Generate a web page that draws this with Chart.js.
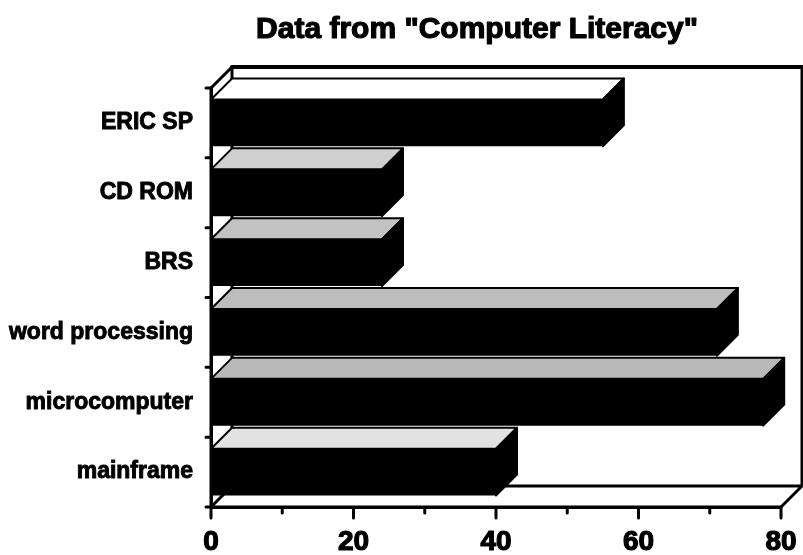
<!DOCTYPE html>
<html><head><meta charset="utf-8">
<script src="https://cdn.jsdelivr.net/npm/chart.js@4"></script>
<style>html,body{margin:0;padding:0;background:#fff;}#wrap{width:803px;height:555px;}</style>
</head><body><div id="wrap"><canvas id="c" width="803" height="555"></canvas></div>
<script>
const chartTitle = 'Data from "Computer Literacy"';
const categories = ['ERIC SP', 'CD ROM', 'BRS', 'word processing', 'microcomputer', 'mainframe'];
const values = [55, 24, 24, 71, 77.5, 40];
const xTickValues = [0, 20, 40, 60, 80];
const xMinorTickValues = [10, 30, 50, 70];

const topShades = ['#ffffff', '#cfcfcf', '#c2c2c2', '#bdbdbd', '#b9b9b9', '#e2e2e2'];
const DEPTH = 21;
const FONT = '"Liberation Sans", Arial, Helvetica, sans-serif';

const frame3d = {
  id: 'frame3d',
  beforeDatasetsDraw(chart) {
    const {ctx, chartArea: a, scales: {x}} = chart;
    const L = x.getPixelForValue(xTickValues[0]);
    const R = x.getPixelForValue(xTickValues[xTickValues.length - 1]);
    const D = DEPTH;
    ctx.save();
    ctx.strokeStyle = '#000';
    ctx.lineWidth = 3;
    ctx.lineJoin = 'round';
    ctx.lineCap = 'round';
    ctx.beginPath();
    ctx.moveTo(L, a.top); ctx.lineTo(L + D, a.top - D);
    ctx.lineTo(R + D, a.top - D); ctx.lineTo(R + D, a.bottom - D); ctx.lineTo(R, a.bottom);
    ctx.moveTo(R + D, a.bottom - D); ctx.lineTo(L + D, a.bottom - D); ctx.lineTo(L, a.bottom);
    ctx.moveTo(L + D, a.top - D); ctx.lineTo(L + D, a.bottom - D);
    ctx.stroke();
    ctx.lineWidth = 4;
    ctx.beginPath();
    ctx.moveTo(L + D, a.top - D); ctx.lineTo(R + D, a.top - D);
    ctx.stroke();
    ctx.restore();
  },
  afterDatasetsDraw(chart) {
    const {ctx} = chart;
    const D = DEPTH;
    const meta = chart.getDatasetMeta(0);
    ctx.save();
    ctx.strokeStyle = '#000';
    ctx.lineJoin = 'round';
    meta.data.forEach((bar, i) => {
      const p = bar.getProps(['x', 'y', 'base', 'height'], true);
      const x0 = p.base, x1 = p.x, y0 = p.y - p.height / 2, y1 = p.y + p.height / 2;
      ctx.beginPath();
      ctx.moveTo(x0, y0); ctx.lineTo(x0 + D, y0 - D); ctx.lineTo(x1 + D, y0 - D); ctx.lineTo(x1, y0);
      ctx.closePath();
      ctx.fillStyle = topShades[i];
      ctx.fill();
      ctx.lineWidth = 2;
      ctx.stroke();
      ctx.beginPath();
      ctx.moveTo(x1, y0); ctx.lineTo(x1 + D, y0 - D); ctx.lineTo(x1 + D, y1 - D); ctx.lineTo(x1, y1);
      ctx.closePath();
      ctx.fillStyle = '#000';
      ctx.fill();
      ctx.stroke();
    });
    ctx.restore();
  },
  afterDraw(chart) {
    const {ctx, chartArea: a, scales: {x, y}} = chart;
    const L = x.getPixelForValue(xTickValues[0]);
    const R = x.getPixelForValue(xTickValues[xTickValues.length - 1]);
    ctx.save();
    ctx.strokeStyle = '#000';
    ctx.lineCap = 'round';
    ctx.lineWidth = 3;
    ctx.beginPath();
    ctx.moveTo(L, a.top); ctx.lineTo(L, a.bottom); ctx.lineTo(R, a.bottom);
    xTickValues.forEach(v => { const px = x.getPixelForValue(v); ctx.moveTo(px, a.bottom); ctx.lineTo(px, a.bottom + 11); });
    xMinorTickValues.forEach(v => { const px = x.getPixelForValue(v); ctx.moveTo(px, a.bottom); ctx.lineTo(px, a.bottom + 6); });
    for (let i = 0; i <= categories.length; i++) {
      const py = y.getPixelForValue(i - 0.5);
      ctx.moveTo(L - 5, py); ctx.lineTo(L, py);
    }
    ctx.stroke();
    ctx.fillStyle = '#000';
    ctx.font = 'bold 30px ' + FONT;
    ctx.textAlign = 'center';
    ctx.textBaseline = 'alphabetic';
    ctx.lineWidth = 1.2;
    ctx.lineJoin = 'round';
    ctx.fillText(chartTitle, 477, 38);
    ctx.strokeText(chartTitle, 477, 38);
    ctx.restore();
  }
};

new Chart(document.getElementById('c'), {
  type: 'bar',
  data: {
    labels: categories,
    datasets: [{
      data: values,
      backgroundColor: '#000',
      borderWidth: 0,
      barPercentage: 0.67,
      categoryPercentage: 1
    }]
  },
  options: {
    indexAxis: 'y',
    responsive: false,
    animation: false,
    devicePixelRatio: 1,
    layout: {padding: {top: 88, right: 22, left: 0, bottom: 0}},
    plugins: {legend: {display: false}, title: {display: false}, tooltip: {enabled: false}},
    scales: {
      x: {
        type: 'linear', min: 0, max: 80,
        afterBuildTicks(s) { s.ticks = xTickValues.map(v => ({value: v})); },
        ticks: {font: {family: FONT, weight: 'bold', size: 28}, color: '#000', padding: 18, maxRotation: 0, autoSkip: false,
                textStrokeColor: '#000', textStrokeWidth: 1.2},
        grid: {display: false, drawTicks: false},
        border: {display: true, color: '#000', width: 3},
        afterFit(s) { s.height = 48; s.paddingLeft = 0; s.paddingRight = 0; }
      },
      y: {
        ticks: {font: {family: FONT, weight: 'bold', size: 23}, color: '#000', padding: 18,
                textStrokeColor: '#000', textStrokeWidth: 0.9},
        grid: {display: false, drawTicks: false},
        border: {display: true, color: '#000', width: 3},
        afterFit(s) { s.width = 211; s.paddingTop = 0; s.paddingBottom = 0; }
      }
    }
  },
  plugins: [frame3d]
});
</script>
</body></html>
